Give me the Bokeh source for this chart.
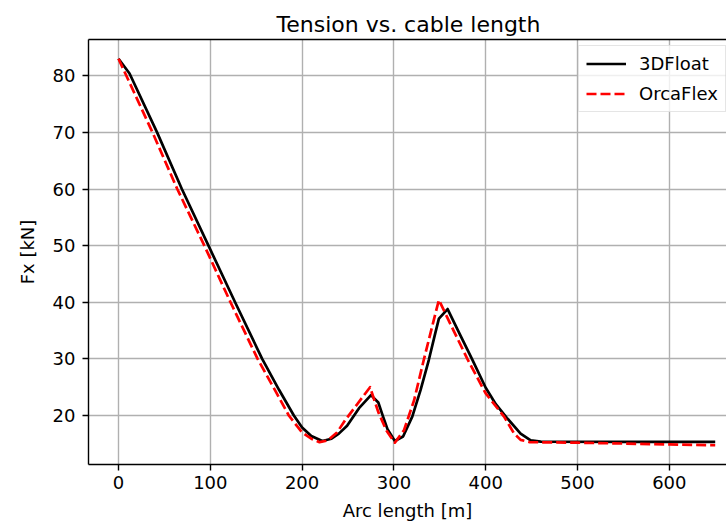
from bokeh.plotting import figure
from bokeh.models import Range1d, FixedTicker, LinearAxis, Legend, LegendItem
from bokeh.embed import file_html
from bokeh.resources import INLINE

# ---- data ----
arc_3dfloat = [0, 12, 42, 69, 98, 127, 156.5, 175, 191, 200, 210, 222, 232, 240, 249, 262,
               275, 283, 288, 293, 301, 310, 320, 329, 338, 345, 349, 358.5, 372, 385,
               400, 411, 423, 438, 449, 460, 550, 650]
fx_3dfloat = [83.0, 80.4, 70.0, 60.0, 50.0, 40.0, 30.0, 24.5, 20.0, 17.9, 16.4, 15.5, 15.9, 16.8, 18.2, 21.3,
              23.6, 22.3, 19.9, 17.6, 15.5, 16.3, 19.8, 24.5, 29.8, 34.5, 37.1, 38.8, 34.3, 30.0,
              24.9, 22.0, 19.6, 16.8, 15.6, 15.4, 15.35, 15.35]

arc_orcaflex = [0, 37, 64, 93.5, 122, 151.5, 170, 185.5, 200, 210, 219, 228, 238, 247, 260,
                274, 283, 292, 301, 311, 322, 332.5, 343.5, 349, 365, 380,
                400, 420, 431, 438, 448, 500, 550, 600, 650]
fx_orcaflex = [83.0, 70.0, 60.0, 50.0, 40.0, 30.0, 24.6, 20.0, 17.0, 15.9, 15.3, 15.6, 17.0, 19.2, 22.0,
               25.0, 20.6, 17.3, 15.2, 17.4, 22.7, 29.8, 36.9, 40.4, 35.0, 30.0,
               23.9, 19.8, 16.8, 15.7, 15.3, 15.2, 15.05, 14.9, 14.75]

x_ticks = [0, 100, 200, 300, 400, 500, 600]
y_ticks = [20, 30, 40, 50, 60, 70, 80]
series_names = ["3DFloat", "OrcaFlex"]

FONT = "DejaVu Sans"

p = figure(width=726, height=525, output_backend="svg", toolbar_location=None,
           x_range=Range1d(-32.7, 662.3), y_range=Range1d(11.35, 86.4),
           min_border_left=88, min_border_right=0, min_border_top=39, min_border_bottom=61,
           title="Tension vs. cable length")
p.outline_line_color = None
p.background_fill_color = "white"
p.border_fill_color = "white"

p.title.text_font = FONT
p.title.text_font_size = "22px"
p.title.text_font_style = "normal"
p.title.text_color = "black"
p.title.align = "left"
p.title.offset = 188
p.title.standoff = 6

xax = p.below[0]
yax = p.left[0]
for ax, ticks in ((xax, x_ticks), (yax, y_ticks)):
    ax.ticker = FixedTicker(ticks=ticks)
    ax.axis_line_width = 1.4
    ax.axis_line_color = "black"
    ax.major_tick_out = 6
    ax.major_tick_in = 0
    ax.major_tick_line_width = 1.4
    ax.minor_tick_line_color = None
    ax.major_label_text_font = FONT
    ax.major_label_text_font_size = "18px"
    ax.major_label_text_color = "black"
    ax.axis_label_text_font = FONT
    ax.axis_label_text_font_size = "18px"
    ax.axis_label_text_font_style = "normal"
    ax.axis_label_text_color = "black"

xax.axis_label = "Arc length [m]"
yax.axis_label = "Fx [kN]"
xax.major_label_standoff = 5
xax.axis_label_standoff = 8
yax.major_label_standoff = 7
yax.axis_label_standoff = 12

# top spine as an empty axis
top = LinearAxis(ticker=FixedTicker(ticks=[]), axis_line_width=1.4, axis_line_color="black",
                 major_tick_out=0, major_tick_in=0, minor_tick_out=0, minor_tick_in=0,
                 major_label_standoff=0, axis_label=None)
p.add_layout(top, "above")

p.xgrid.ticker = FixedTicker(ticks=x_ticks)
p.ygrid.ticker = FixedTicker(ticks=y_ticks)
p.grid.grid_line_color = "#b0b0b0"
p.grid.grid_line_width = 1.4

r1 = p.line(arc_3dfloat, fx_3dfloat, line_color="black", line_width=2.7, line_join="round")
r2 = p.line(arc_orcaflex, fx_orcaflex, line_color="#ff0000", line_width=2.7, line_dash="10 4",
            line_join="round")

legend = Legend(items=[LegendItem(label=series_names[0], renderers=[r1]),
                       LegendItem(label=series_names[1], renderers=[r2])],
                location=(490, 352))
legend.label_text_font = FONT
legend.label_text_font_size = "18px"
legend.label_text_color = "black"
legend.glyph_width = 40
legend.glyph_height = 21
legend.label_height = 21
legend.label_standoff = 13
legend.spacing = 9
legend.padding = 7
legend.margin = 0
legend.border_line_color = "#cccccc"
legend.border_line_width = 1
legend.background_fill_alpha = 0.8
p.add_layout(legend)

open("out.html", "w").write(file_html(p, INLINE))
